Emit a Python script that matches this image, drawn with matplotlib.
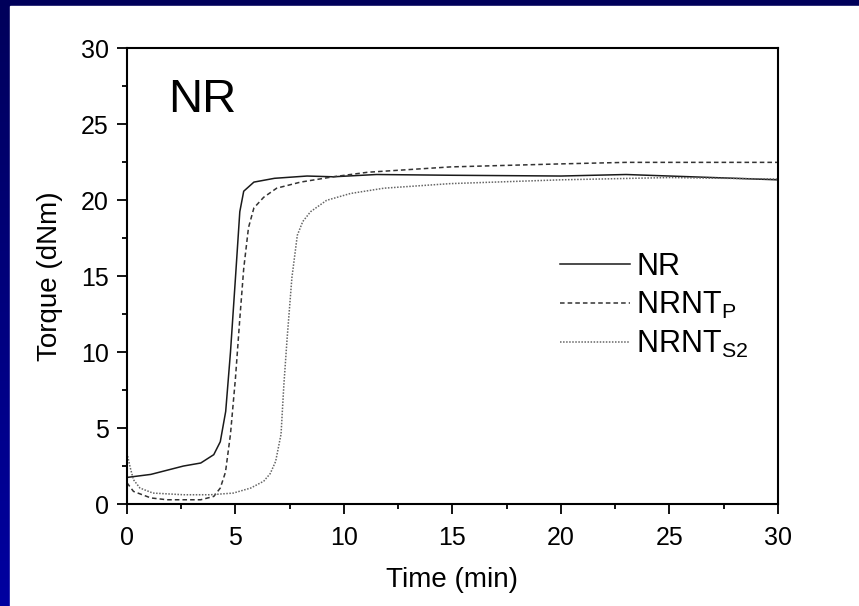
import numpy as np
import matplotlib.pyplot as plt
from matplotlib.patches import Rectangle
from matplotlib.colors import LinearSegmentedColormap

plt.rcParams['font.family'] = ['Liberation Sans', 'DejaVu Sans']
plt.rcParams['mathtext.fontset'] = 'custom'
plt.rcParams['mathtext.rm'] = 'Liberation Sans'

# cure curves (time in min, torque in dNm)
t_nr = [0, 1.1, 2.6, 3.4, 4.0, 4.3, 4.55, 4.77, 5.0, 5.2, 5.38, 5.85, 6.8, 8.3,
        9.5, 11.5, 15, 20, 23, 27, 30]
tq_nr = [1.75, 1.95, 2.5, 2.7, 3.25, 4.1, 6.1, 10.0, 14.9, 19.25, 20.6, 21.2,
         21.45, 21.6, 21.55, 21.7, 21.65, 21.6, 21.7, 21.5, 21.35]

t_p = [0, 0.3, 1.1, 1.85, 3.4, 4.0, 4.3, 4.54, 4.77, 5.0, 5.2, 5.38, 5.6, 5.85,
       6.3, 6.9, 8.0, 9.5, 11.1, 14.9, 20, 23, 30]
tq_p = [1.4, 0.83, 0.4, 0.28, 0.28, 0.5, 1.05, 2.1, 4.6, 8.3, 12.2, 15.5, 18.2,
        19.5, 20.2, 20.8, 21.2, 21.55, 21.85, 22.2, 22.4, 22.5, 22.5]

t_s2 = [0, 0.15, 0.3, 0.6, 1.2, 2.6, 3.85, 4.9, 5.7, 6.3, 6.6, 6.85, 7.1, 7.23,
        7.38, 7.6, 7.85, 8.1, 8.46, 9.2, 10.3, 11.85, 14.9, 20, 25, 30]
tq_s2 = [3.35, 2.4, 1.6, 1.05, 0.72, 0.61, 0.61, 0.72, 1.05, 1.5, 2.0, 2.8, 4.6,
         7.85, 10.9, 14.9, 17.7, 18.6, 19.25, 20.0, 20.45, 20.8, 21.1, 21.35,
         21.5, 21.4]

fig = plt.figure(figsize=(8.59, 6.06), dpi=100)

# slide background: blue gradient with a white panel
bg = fig.add_axes([0, 0, 1, 1], zorder=-2)
grad = np.linspace(0, 1, 256).reshape(-1, 1)
bg.imshow(grad, aspect='auto', extent=[0, 1, 0, 1], origin='upper',
          cmap=LinearSegmentedColormap.from_list('slide', ['#00005a', '#0000a0']))
bg.add_patch(Rectangle((10 / 859, 0), 1, 1 - 6 / 606, color='white'))
bg.set_xlim(0, 1)
bg.set_ylim(0, 1)
bg.axis('off')

ax = fig.add_axes([0.1478, 0.1683, 0.7579, 0.7517])
ax.plot(t_nr, tq_nr, color='#1a1a1a', lw=1.1, ls='-', label='NR')
ax.plot(t_p, tq_p, color='#333333', lw=1.1, ls=(0, (3, 2)),
        label='NRNT$_\\mathregular{P}$')
ax.plot(t_s2, tq_s2, color='#666666', lw=1.1, ls=(0, (1, 1)),
        label='NRNT$_\\mathregular{S2}$')

ax.set_xlim(0, 30)
ax.set_ylim(0, 30)
ax.set_xticks(np.arange(0, 31, 5))
ax.set_yticks(np.arange(0, 31, 5))
ax.set_xticks(np.arange(2.5, 30, 5), minor=True)
ax.set_yticks(np.arange(2.5, 30, 5), minor=True)
ax.tick_params(which='major', direction='out', length=7, width=1.3,
               labelsize=18, pad=6, colors='black')
ax.tick_params(axis='x', which='major', pad=9)
ax.tick_params(which='minor', direction='out', length=3.5, width=1.3)
for s in ax.spines.values():
    s.set_linewidth(1.5)

ax.set_xlabel('Time (min)', fontsize=20, labelpad=12)
ax.set_ylabel('Torque (dNm)', fontsize=20, labelpad=13)

ax.text(0.063, 0.887, 'NR', transform=ax.transAxes, fontsize=34,
        va='center', ha='left')

ax.legend(loc='center left', bbox_to_anchor=(0.665, 0.435), frameon=False,
          fontsize=22, handlelength=2.3, handletextpad=0.2,
          labelspacing=0.27, borderpad=0, borderaxespad=0)

fig.savefig('out.png', dpi=100)
